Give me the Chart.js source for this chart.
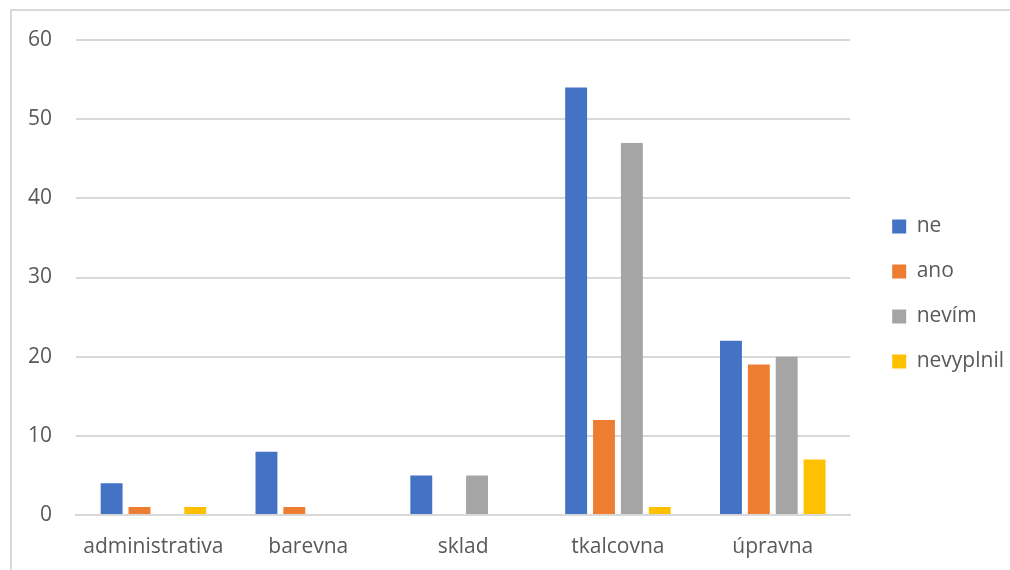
<!DOCTYPE html>
<html>
<head>
<meta charset="utf-8">
<script src="https://cdn.jsdelivr.net/npm/chart.js@4"></script>
<style>
  html, body { margin: 0; padding: 0; background: #fff; overflow: hidden; }
  #frame {
    position: absolute; left: 10px; top: 9px; width: 1010px; height: 570px;
    border: 2px solid #d9d9d9; box-sizing: border-box;
  }
  #wrap { position: absolute; left: 0; top: 0; width: 1010px; height: 570px; }
</style>
</head>
<body>
<div id="frame"></div>
<div id="wrap"><canvas id="chart" width="1010" height="570"></canvas></div>
<script>
// Odpovědi podle pracoviště
const categories = ['administrativa', 'barevna', 'sklad', 'tkalcovna', 'úpravna'];
const ne = [4, 8, 5, 54, 22];
const ano = [1, 1, 0, 12, 19];
const nevim = [0, 0, 5, 47, 20];
const nevyplnil = [1, 0, 0, 1, 7];
const yTicks = [0, 10, 20, 30, 40, 50, 60];

const textColor = '#595959';
const gridColor = '#d9d9d9';
const font = { family: '"Open Sans", sans-serif', size: 21 };

// nudge the legend box a bit right and up from where the layout puts it
const legendShift = {
  id: 'legendShift',
  afterLayout(chart) {
    const lg = chart.legend;
    if (!lg) return;
    lg.left += 18; lg.right += 18;
    lg.top -= 11; lg.bottom -= 11;
  }
};

const ctx = document.getElementById('chart').getContext('2d');
new Chart(ctx, {
  type: 'bar',
  data: {
    labels: categories,
    datasets: [
      { label: 'ne', data: ne, backgroundColor: '#4472C4' },
      { label: 'ano', data: ano, backgroundColor: '#ED7D31' },
      { label: 'nevím', data: nevim, backgroundColor: '#A5A5A5' },
      { label: 'nevyplnil', data: nevyplnil, backgroundColor: '#FFC000' }
    ]
  },
  options: {
    responsive: false,
    animation: false,
    events: [],
    categoryPercentage: 0.72,
    barPercentage: 0.786,
    layout: { padding: { left: 0, top: 40, right: 14, bottom: 0 } },
    plugins: {
      tooltip: { enabled: false },
      legend: {
        position: 'right',
        labels: {
          color: textColor,
          font: font,
          boxWidth: 14,
          boxHeight: 14,
          padding: 24
        }
      }
    },
    scales: {
      x: {
        grid: { display: false, drawTicks: false },
        border: { color: gridColor, width: 2 },
        ticks: { color: textColor, font: font, padding: 19, maxRotation: 0 },
        afterFit: s => { s.height = 55; }
      },
      y: {
        min: 0,
        max: 60,
        afterBuildTicks: s => { s.ticks = yTicks.map(v => ({ value: v })); },
        grid: { color: gridColor, lineWidth: 2, drawTicks: false },
        border: { display: false },
        ticks: { color: textColor, font: font, padding: 24 },
        afterFit: s => { s.width = 76; }
      }
    }
  },
  plugins: [legendShift]
});
</script>
</body>
</html>
